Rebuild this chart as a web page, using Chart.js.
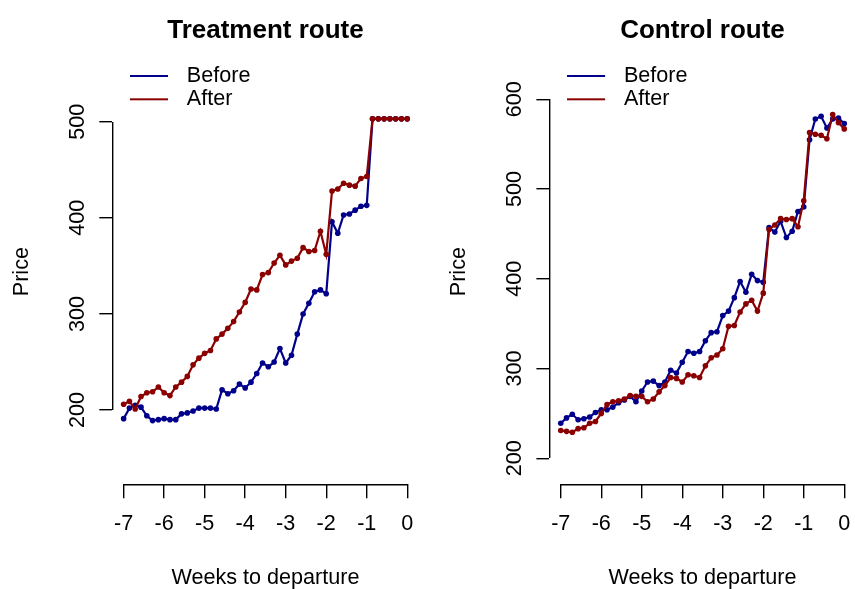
<!DOCTYPE html>
<html lang="en">
<head>
<meta charset="UTF-8">
<title>Price by weeks to departure</title>
<script src="https://cdn.jsdelivr.net/npm/chart.js"></script>
<style>
  html, body { margin: 0; padding: 0; background: #fff; overflow: hidden; }
  canvas { position: absolute; top: 0; }
  #treatment { left: 0; }
  #control { left: 427px; }
</style>
</head>
<body>

<canvas id="treatment" width="427" height="589"></canvas>
<canvas id="control" width="432" height="589"></canvas>

<script>
// one observation per day, counted back from departure
const days = [-49, -48, -47, -46, -45, -44, -43, -42, -41, -40,
              -39, -38, -37, -36, -35, -34, -33, -32, -31, -30,
              -29, -28, -27, -26, -25, -24, -23, -22, -21, -20,
              -19, -18, -17, -16, -15, -14, -13, -12, -11, -10,
              -9, -8, -7, -6, -5, -4, -3, -2, -1, 0];
const weekTicks = [-7, -6, -5, -4, -3, -2, -1, 0];

const treatmentTicks = [200, 300, 400, 500];
const treatmentBefore = [191, 202, 205, 203, 194, 189, 190, 191, 190, 190,
                         196, 197, 199, 202, 202, 202, 201, 221, 217, 220,
                         227, 223, 229, 238, 249, 245, 250, 264, 249, 257,
                         279, 300, 311, 323, 325, 321, 396, 384, 403, 404,
                         408, 412, 413, 503, 503, 503, 503, 503, 503, 503];
const treatmentAfter = [206, 209, 201, 214, 218, 219, 224, 218, 215, 224,
                        229, 235, 247, 254, 259, 262, 274, 279, 285, 292,
                        302, 312, 326, 325, 341, 343, 353, 361, 351, 355,
                        358, 369, 365, 366, 386, 362, 428, 430, 436, 434,
                        433, 441, 443, 503, 503, 503, 503, 503, 503, 503];

const controlTicks = [200, 300, 400, 500, 600];
const controlBefore = [239, 245, 249, 243, 244, 246, 251, 254, 254, 257,
                       262, 265, 269, 263, 275, 285, 286, 281, 285, 298,
                       295, 307, 319, 317, 319, 331, 340, 341, 359, 364,
                       379, 397, 385, 405, 398, 396, 457, 452, 464, 446,
                       453, 475, 480, 555, 578, 581, 568, 578, 579, 573];
const controlAfter = [231, 230, 229, 233, 234, 239, 241, 250, 260, 263,
                      264, 266, 270, 269, 269, 263, 266, 274, 281, 290,
                      289, 285, 293, 292, 290, 303, 312, 315, 322, 347,
                      348, 363, 372, 376, 364, 384, 455, 460, 467, 466,
                      467, 458, 487, 563, 561, 560, 556, 583, 574, 567];

const BLUE = '#00008b';
const RED = '#8b0000';
const AXIS_W = 1.4;

Chart.defaults.font.family = "'Liberation Sans', Arial, sans-serif";
Chart.defaults.font.size = 21.6;
Chart.defaults.color = '#000';

function crisp(v, w) {
  return Math.round(v - w / 2) + w / 2;
}

// short coloured segment used as the legend key
function keyLine(color) {
  const c = document.createElement('canvas');
  c.width = 46;
  c.height = 4;
  const g = c.getContext('2d');
  g.fillStyle = color;
  g.fillRect(0, 1, 38, 2);
  return c;
}

// axis lines run only from the first to the last tick
const tickSpanAxes = {
  id: 'tickSpanAxes',
  afterDraw(chart) {
    const { ctx, scales: { x, y } } = chart;
    const xt = x.ticks, yt = y.ticks;
    const ax = crisp(y.right, AXIS_W), ay = crisp(x.top, AXIS_W);
    ctx.save();
    ctx.strokeStyle = '#000';
    ctx.lineWidth = AXIS_W;
    ctx.beginPath();
    ctx.moveTo(Math.round(x.getPixelForValue(xt[0].value)), ay);
    ctx.lineTo(Math.round(x.getPixelForValue(xt[xt.length - 1].value)), ay);
    ctx.moveTo(ax, Math.round(y.getPixelForValue(yt[0].value)));
    ctx.lineTo(ax, Math.round(y.getPixelForValue(yt[yt.length - 1].value)));
    ctx.stroke();
    ctx.restore();
  }
};

// keep the legend in the top left corner of the plot
const legendCorner = {
  id: 'legendCorner',
  afterLayout(chart) {
    const lg = chart.legend, area = chart.chartArea;
    lg.left = area.left + 16;
    lg.top = area.top + 4.5;
    lg.right = area.right;
    lg.bottom = area.bottom;
  }
};

function series(label, values, color) {
  return {
    label: label,
    data: days.map((d, i) => ({ x: d / 7, y: values[i] })),
    borderColor: color,
    backgroundColor: color,
    borderWidth: 2.2,
    pointRadius: 2.8,
    pointBorderWidth: 0,
    pointBackgroundColor: color,
    tension: 0
  };
}

function panel(id, title, before, after, yTicks, yMin, yMax, axisLeft, padRight) {
  const tickStyle = {
    drawOnChartArea: false,
    drawTicks: true,
    lineWidth: AXIS_W,
    tickWidth: AXIS_W,
    tickColor: '#000'
  };

  return new Chart(document.getElementById(id), {
    type: 'line',
    data: {
      // After is drawn on top, legend lists Before first
      datasets: [series('After', after, RED), series('Before', before, BLUE)]
    },
    options: {
      responsive: false,
      animation: false,
      events: [],
      layout: { autoPadding: false, padding: { left: 0, top: 0, right: padRight, bottom: 0 } },
      scales: {
        x: {
          type: 'linear',
          min: -7.28,
          max: 0.28,
          afterBuildTicks: s => { s.ticks = weekTicks.map(v => ({ value: v })); },
          afterFit: s => { s.height = 104.7; s.paddingLeft = 0; s.paddingRight = 0; },
          grid: Object.assign({ tickLength: 14 }, tickStyle),
          border: { display: false },
          ticks: {
            padding: 12.5,
            maxRotation: 0,
            font: { size: 21.6, lineHeight: 1.2 },
            callback: v => String(v)
          },
          title: {
            display: true,
            text: 'Weeks to departure',
            font: { size: 21.6, lineHeight: 1 },
            padding: { top: 0, bottom: 0.6 }
          }
        },
        y: {
          type: 'linear',
          min: yMin,
          max: yMax,
          afterBuildTicks: s => { s.ticks = yTicks.map(v => ({ value: v })); },
          afterFit: s => { s.width = axisLeft; s.paddingTop = 0; s.paddingBottom = 0; },
          grid: Object.assign({ tickLength: 13 }, tickStyle),
          border: { display: false },
          ticks: {
            minRotation: 90,
            maxRotation: 90,
            crossAlign: 'center',
            padding: 3,
            font: { size: 21.6 }
          },
          title: {
            display: true,
            text: 'Price',
            font: { size: 21.6, lineHeight: 1.2 },
            padding: { top: axisLeft - 90 - 12.96, bottom: 0 }
          }
        }
      },
      plugins: {
        tooltip: { enabled: false },
        title: {
          display: true,
          text: title,
          fullSize: false,
          color: '#000',
          font: { size: 26, weight: 'bold', lineHeight: 1.2 },
          padding: { top: 15, bottom: 12.8 }
        },
        legend: {
          position: 'chartArea',
          align: 'start',
          reverse: true,
          labels: {
            usePointStyle: true,
            pointStyleWidth: 46,
            padding: 1.7,
            color: '#000',
            font: { size: 21.6 },
            generateLabels(chart) {
              const items = Chart.defaults.plugins.legend.labels.generateLabels(chart);
              items.forEach(it => { it.pointStyle = keyLine(it.strokeStyle); });
              return items;
            }
          }
        }
      }
    },
    plugins: [tickSpanAxes, legendCorner]
  });
}

panel('treatment', 'Treatment route', treatmentBefore, treatmentAfter,
      treatmentTicks, 122.7, 565.3, 112.3, 8.4);
panel('control', 'Control route', controlBefore, controlAfter,
      controlTicks, 171.0, 644.9, 122.4, 3.4);
</script>

</body>
</html>
